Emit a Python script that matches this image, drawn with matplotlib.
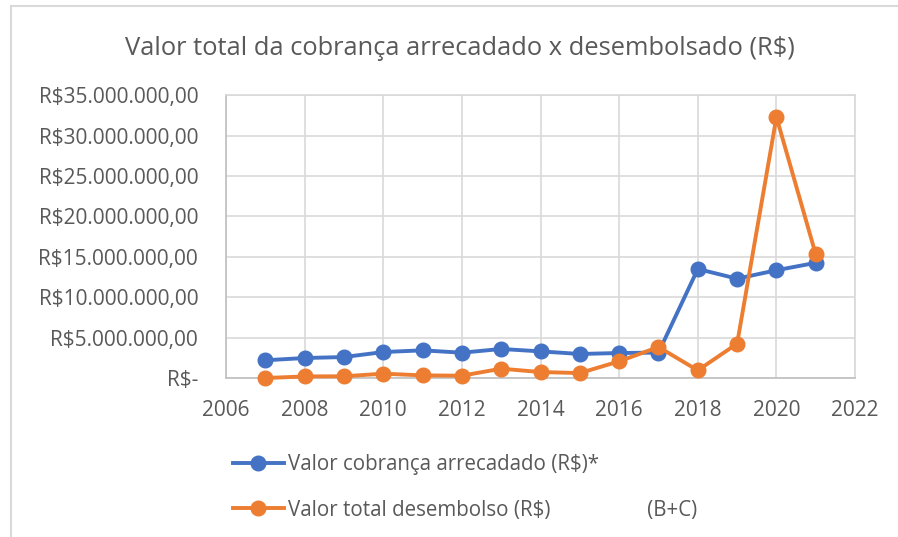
import matplotlib
matplotlib.use("Agg")
import matplotlib.pyplot as plt
from matplotlib.lines import Line2D

# --- data ---
years = [2007, 2008, 2009, 2010, 2011, 2012, 2013, 2014, 2015, 2016,
         2017, 2018, 2019, 2020, 2021]
arrecadado = [2.2, 2.48, 2.6, 3.22, 3.43, 3.14, 3.6, 3.3, 2.98, 3.1,
              3.15, 13.5, 12.3, 13.35, 14.26]  # milhoes R$
desembolso = [0.0, 0.2, 0.22, 0.54, 0.33, 0.29, 1.16, 0.74, 0.62, 2.07,
              3.84, 0.95, 4.26, 32.3, 15.3]  # milhoes R$
y_ticks = [0, 5e6, 10e6, 15e6, 20e6, 25e6, 30e6, 35e6]
y_labels = ["R$-", "R$5.000.000,00", "R$10.000.000,00", "R$15.000.000,00",
            "R$20.000.000,00", "R$25.000.000,00", "R$30.000.000,00",
            "R$35.000.000,00"]
x_ticks = [2006, 2008, 2010, 2012, 2014, 2016, 2018, 2020, 2022]

label_a = "Valor cobrança arrecadado (R$)*"
label_b = "Valor total desembolso (R$)                  (B+C)"

BLUE = "#4472C4"
ORANGE = "#ED7D31"
TXT = "#595959"
GRID = "#D9D9D9"

plt.rcParams["font.family"] = ["Open Sans", "DejaVu Sans"]

fig = plt.figure(figsize=(8.98, 5.37), dpi=100)
ax = fig.add_axes([0.2517, 0.296, 0.7005, 0.5265])

ax.plot(years, [v * 1e6 for v in arrecadado], color=BLUE, lw=2.8,
        marker="o", ms=10.5, label=label_a, zorder=3)
ax.plot(years, [v * 1e6 for v in desembolso], color=ORANGE, lw=2.8,
        marker="o", ms=10.5, label=label_b, zorder=4)

ax.set_xlim(2006, 2022)
ax.set_ylim(0, 35e6)
ax.set_xticks(x_ticks)
ax.set_yticks(y_ticks)
ax.set_yticklabels(y_labels)
ax.tick_params(length=0, colors=TXT, labelsize=15)
ax.tick_params(axis="y", pad=20)
ax.tick_params(axis="x", pad=16)
ax.grid(True, color=GRID, lw=1.2)
ax.set_axisbelow(True)
for side, sp in ax.spines.items():
    sp.set_color(GRID if side in ("top", "right") else "#BFBFBF")
    sp.set_linewidth(1.2)
for ln in ax.lines:
    ln.set_clip_on(False)

fig.text(0.512, 0.91, "Valor total da cobrança arrecadado x desembolsado (R$)",
         ha="center", va="center", fontsize=18.4, color=TXT)

fig.legend(loc="upper left", bbox_to_anchor=(0.25, 0.17), frameon=False,
           fontsize=14.8, labelcolor=TXT, handlelength=2.5, handletextpad=0.2,
           labelspacing=1.2, borderaxespad=0)

# outer chart border (only left and top visible in the crop)
fig.add_artist(Line2D([0.012, 0.012], [0, 0.989], transform=fig.transFigure,
                      color=GRID, lw=1.5))
fig.add_artist(Line2D([0.012, 1.0], [0.989, 0.989], transform=fig.transFigure,
                      color=GRID, lw=1.5))

fig.savefig("out.png", dpi=100)
